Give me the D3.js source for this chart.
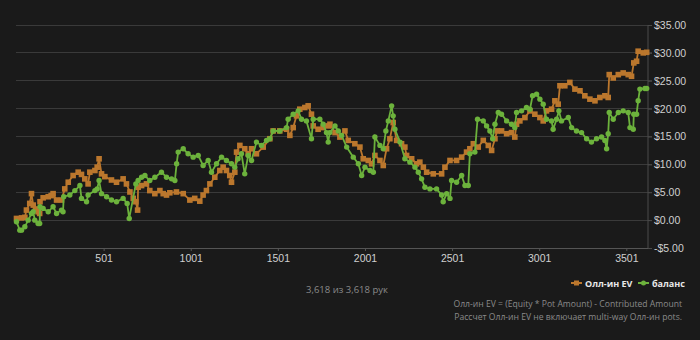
<!DOCTYPE html>
<html><head><meta charset="utf-8">
<script src="https://cdn.jsdelivr.net/npm/d3@7"></script>
<style>
html,body{margin:0;padding:0;background:#1a1a1a;}
svg{display:block;font-family:"Open Sans","Noto Sans",sans-serif;}
</style></head>
<body>
<svg id="chart" width="700" height="340"></svg>
<script>
const evHands = [1,30,49,58,77,87,97,110,125,134,136,154,183,200,211,231,259,278,298,326,355,374,393,412,422,451,464,475,489,508,546,575,613,632,652,671,686,696,699,719,747,766,795,824,843,862,881,919,958,996,1024,1053,1072,1091,1111,1139,1168,1187,1206,1225,1235,1254,1264,1283,1311,1331,1350,1378,1417,1455,1474,1512,1551,1570,1589,1608,1627,1656,1675,1694,1704,1732,1761,1790,1800,1829,1857,1886,1905,1943,1972,1991,2020,2039,2058,2087,2106,2125,2144,2163,2183,2211,2230,2240,2269,2297,2316,2336,2355,2393,2441,2460,2489,2527,2556,2584,2603,2623,2651,2680,2709,2728,2747,2760,2785,2814,2842,2861,2871,2890,2919,2948,2976,3005,3024,3043,3072,3091,3110,3120,3148,3177,3206,3235,3263,3292,3321,3349,3378,3397,3403,3426,3455,3483,3512,3531,3544,3560,3569,3598,3618];
const evValues = [0.3,0.4,0.5,1.8,3.0,4.75,2.7,2.0,1.5,1.2,3.3,4.0,4.2,4.4,4.75,3.6,3.6,5.6,6.8,8.0,8.6,8.2,7.4,6.5,8.6,8.9,9.5,11.0,8.3,7.8,7.2,6.8,7.4,6.5,5.05,3.9,3.3,1.8,5.9,6.2,6.5,5.3,4.75,5.3,4.75,4.5,4.9,5.05,4.75,3.6,3.9,3.4,4.5,5.3,6.5,7.7,8.9,9.5,8.9,8.0,6.8,8.6,12.2,13.4,12.8,11.9,12.8,11.9,13.1,14.6,16.0,16.0,16.3,15.2,16.6,18.7,19.9,20.2,20.5,19.0,16.9,16.3,16.6,16.9,17.2,15.7,14.9,16.0,14.3,13.7,13.1,11.0,10.7,10.1,11.6,10.7,9.8,12.8,14.6,17.5,14.3,13.7,13.1,11.6,11.0,10.1,10.4,9.5,8.6,8.3,8.3,9.5,10.7,10.7,11.3,12.2,12.8,13.7,13.1,14.3,13.4,12.5,14.6,16.0,16.0,15.5,15.7,14.9,17.2,17.8,18.4,19.6,19.0,18.4,17.8,19.6,19.9,21.4,20.8,24.1,24.1,24.7,23.5,23.2,22.3,21.7,21.4,22.0,22.3,22.0,26.1,25.5,26.1,26.4,26.1,25.8,28.2,28.5,30.3,30.0,30.1];
const balHands = [1,20,30,49,68,87,97,106,125,134,136,154,183,211,231,259,268,272,307,336,365,374,403,412,451,464,475,489,518,546,575,613,636,648,686,699,719,738,766,795,833,862,891,910,920,929,958,986,1015,1044,1072,1101,1120,1149,1178,1206,1235,1254,1273,1292,1311,1331,1350,1378,1407,1436,1455,1474,1512,1551,1560,1589,1618,1637,1665,1694,1704,1742,1761,1780,1790,1799,1829,1848,1867,1896,1934,1963,1982,2001,2030,2049,2058,2087,2106,2121,2135,2154,2163,2173,2202,2230,2259,2288,2307,2326,2345,2374,2412,2441,2450,2470,2489,2498,2527,2556,2575,2594,2603,2632,2647,2680,2699,2718,2734,2747,2766,2785,2814,2842,2861,2871,2900,2928,2948,2963,2986,3005,3024,3043,3072,3081,3101,3114,3129,3168,3187,3215,3244,3273,3301,3330,3359,3378,3388,3397,3403,3426,3455,3483,3512,3522,3541,3544,3560,3569,3579,3608,3618];
const balValues = [-0.3,-1.8,-1.8,-1.2,0.0,1.2,1.5,0.0,-0.6,-0.6,2.4,2.1,1.5,2.4,1.2,1.8,1.5,4.2,4.5,5.3,6.2,3.9,3.3,4.5,5.3,5.6,7.1,4.75,4.2,3.6,3.3,3.9,3.0,0.3,6.5,7.1,7.7,8.0,7.1,7.7,8.6,7.7,7.4,7.1,10.1,12.2,12.8,11.9,11.3,11.6,9.8,10.7,8.6,10.1,11.3,10.7,10.1,9.5,11.0,11.9,8.3,11.6,10.7,14.0,13.4,14.3,14.6,16.0,16.0,16.6,18.1,19.0,19.6,18.1,17.8,14.6,18.1,18.1,17.2,15.7,14.0,15.7,16.9,16.0,15.2,13.1,11.3,10.1,8.0,9.5,8.9,8.6,14.9,13.4,12.8,16.0,17.8,20.5,18.7,16.3,14.0,11.0,10.4,9.5,8.6,7.4,5.9,5.6,5.6,4.5,3.3,4.75,3.9,7.1,6.8,8.0,6.2,6.2,11.9,12.2,18.1,17.8,16.9,16.0,14.6,17.2,19.3,19.0,17.8,17.2,16.6,19.3,19.6,20.2,19.9,22.3,22.6,21.7,20.8,18.1,17.8,16.3,18.1,19.6,17.8,18.4,16.6,16.0,15.7,14.6,14.0,14.6,14.9,14.3,12.8,15.5,19.3,18.1,19.3,19.6,19.3,16.6,16.3,19.0,19.0,21.4,23.5,23.6,23.6];
const xTicks = [501,1001,1501,2001,2501,3001,3501];
const yTicks = [-5,0,5,10,15,20,25,30,35];
const seriesNames = ["Олл-ин EV","баланс"];
const colors = ["#bb772d","#6cb23c"];
const handsLabel = "3,618 из 3,618 рук";
const footnotes = ["Олл-ин EV = (Equity * Pot Amount) - Contributed Amount","Рассчет Олл-ин EV не включает multi-way Олл-ин pots."];

const svg = d3.select("#chart");
svg.append("rect").attr("width",700).attr("height",340).attr("fill","#1a1a1a");
const x = d3.scaleLinear().domain([1,3618]).range([16.5,646.7]);
const y = d3.scaleLinear().domain([-5,35]).range([248,25]);

// grid
svg.append("g").selectAll("line").data(yTicks).join("line")
  .attr("x1",16).attr("x2",652).attr("y1",d=>y(d)).attr("y2",d=>y(d))
  .attr("stroke",d=>d===-5?"#555":"#3a3a3a").attr("stroke-width",1).attr("shape-rendering","crispEdges");
// right axis
const yAxis = d3.axisRight(y).tickValues(yTicks).tickSize(4).tickPadding(2)
  .tickFormat(d=>(d<0?"-$":"$")+Math.abs(d).toFixed(2));
const ga = svg.append("g").attr("transform","translate(648,0)").call(yAxis);
ga.select(".domain").attr("stroke","#4a4a4a").attr("d","M0,25V248");
ga.selectAll(".tick line").attr("stroke","#4a4a4a");
ga.selectAll("text").attr("fill","#d0d0d0").attr("font-size","10.5px");
// bottom axis
const xAxis = d3.axisBottom(x).tickValues(xTicks).tickSize(3).tickPadding(4).tickFormat(d3.format("d"));
const gb = svg.append("g").attr("transform","translate(0,248)").call(xAxis);
gb.select(".domain").remove();
gb.selectAll(".tick line").attr("stroke","#555");
gb.selectAll("text").attr("fill","#d0d0d0").attr("font-size","10.5px");

const ev = evHands.map((h,i)=>[h,evValues[i]]);
const bal = balHands.map((h,i)=>[h,balValues[i]]);
const line = d3.line().x(d=>x(d[0])).y(d=>y(d[1]));

function drawSeries(data,color,shape){
  svg.append("path").datum(data).attr("d",line).attr("fill","none").attr("stroke",color).attr("stroke-width",1.8);
  const g = svg.append("g").attr("fill",color);
  if(shape==="rect"){
    g.selectAll("rect").data(data).join("rect")
      .attr("x",d=>x(d[0])-2.8).attr("y",d=>y(d[1])-2.8).attr("width",5.6).attr("height",5.6);
  } else {
    g.selectAll("circle").data(data).join("circle")
      .attr("cx",d=>x(d[0])).attr("cy",d=>y(d[1])).attr("r",2.7);
  }
}
drawSeries(ev,colors[0],"rect");
drawSeries(bal,colors[1],"circle");

// legend
const legend = svg.append("g");
const lg = [{x:571,name:seriesNames[0],c:colors[0],s:"rect"},{x:638,name:seriesNames[1],c:colors[1],s:"circle"}];
lg.forEach(l=>{
  legend.append("line").attr("x1",l.x).attr("x2",l.x+11).attr("y1",283).attr("y2",283).attr("stroke",l.c).attr("stroke-width",2);
  if(l.s==="rect") legend.append("rect").attr("x",l.x+3).attr("y",280.5).attr("width",5).attr("height",5).attr("fill",l.c);
  else legend.append("circle").attr("cx",l.x+5.5).attr("cy",283).attr("r",2.5).attr("fill",l.c);
  legend.append("text").attr("x",l.x+14).attr("y",286.5).attr("fill","#e8e8e8").attr("font-size","9px").attr("font-weight","bold").text(l.name);
});

svg.append("text").attr("x",347).attr("y",293).attr("text-anchor","middle").attr("fill","#8a8a8a").attr("font-size","9.5px").text(handsLabel);
footnotes.forEach((t,i)=>{
  svg.append("text").attr("x",682).attr("y",307+i*13).attr("text-anchor","end").attr("fill","#8a8a8a").attr("font-size","8.6px").text(t);
});
</script>
</body></html>
